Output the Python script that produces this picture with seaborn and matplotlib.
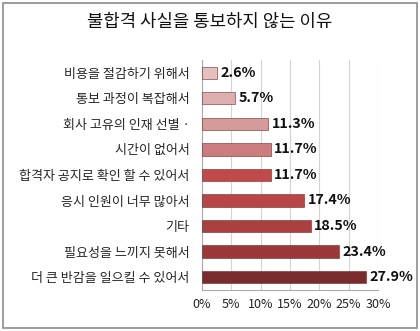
import matplotlib
matplotlib.use("Agg")
import matplotlib.pyplot as plt
import seaborn as sns
import pandas as pd
from matplotlib.patches import Rectangle

reasons = [
    "비용을 절감하기 위해서",
    "통보 과정이 복잡해서",
    "회사 고유의 인재 선별 ·",
    "시간이 없어서",
    "합격자 공지로 확인 할 수 있어서",
    "응시 인원이 너무 많아서",
    "기타",
    "필요성을 느끼지 못해서",
    "더 큰 반감을 일으킬 수 있어서",
]
shares = [2.6, 5.7, 11.3, 11.7, 11.7, 17.4, 18.5, 23.4, 27.9]
value_labels = ["2.6%", "5.7%", "11.3%", "11.7%", "11.7%", "17.4%", "18.5%", "23.4%", "27.9%"]
xticks = [0, 5, 10, 15, 20, 25, 30]
xtick_labels = ["0%", "5%", "10%", "15%", "20%", "25%", "30%"]
bar_colors = ["#e6c0c0", "#deaeae", "#d59a9a", "#cc7c7c", "#c04a4a",
              "#b84646", "#aa4040", "#9c3838", "#7a2c2c"]

sns.set_theme(style="white")
plt.rcParams["font.family"] = ["Noto Sans CJK KR", "DejaVu Sans"]

df = pd.DataFrame({"reason": reasons, "share": shares})

fig = plt.figure(figsize=(4.2, 3.31), dpi=100)
ax = fig.add_axes([0.481, 0.124, 0.419, 0.695])

sns.barplot(data=df, x="share", y="reason", hue="reason", palette=bar_colors,
            saturation=1, legend=False, orient="h", width=0.48, ax=ax, zorder=3,
            edgecolor="#6a2a2a", linewidth=0.4)

ax.set_xlim(0, 30)
ax.set_xticks(xticks)
ax.set_xticklabels(xtick_labels, fontsize=9, color="#222222")
ax.set_xlabel("")
ax.set_ylabel("")
ax.tick_params(axis="y", labelsize=9.4, length=3, color="#999999", pad=6)
ax.tick_params(axis="x", length=3, color="#999999", pad=3)
ax.xaxis.grid(True, color="#d4d4d4", linewidth=0.8, zorder=0)
for side in ["top", "right"]:
    ax.spines[side].set_visible(False)
for side in ["left", "bottom"]:
    ax.spines[side].set_color("#aaaaaa")
    ax.spines[side].set_linewidth(0.8)

for i, (v, lab) in enumerate(zip(shares, value_labels)):
    ax.text(v + 0.6, i, lab, va="center", ha="left", fontsize=10.3,
            fontweight="bold", color="#111111", zorder=4)

fig.text(0.5, 0.935, "불합격 사실을 통보하지 않는 이유", ha="center", va="center",
         fontsize=12.8, fontweight="medium", color="#111111")

fig.patches.append(Rectangle((0.008, 0.008), 0.984, 0.984, transform=fig.transFigure,
                             fill=False, edgecolor="#8c8c8c", linewidth=1.2))

fig.savefig("out.png", dpi=100)
